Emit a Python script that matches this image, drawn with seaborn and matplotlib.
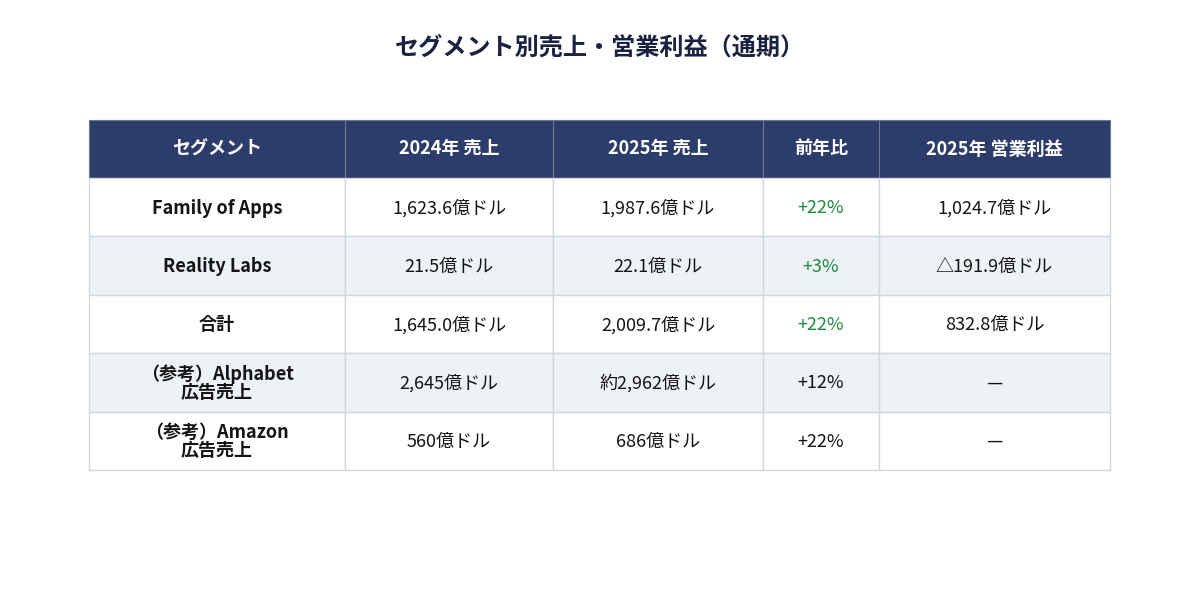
import matplotlib
matplotlib.use("Agg")
import matplotlib.pyplot as plt
import seaborn as sns
from matplotlib.patches import Rectangle

# table contents
headers = ["セグメント", "2024年 売上", "2025年 売上", "前年比", "2025年 営業利益"]
segments = ["Family of Apps", "Reality Labs", "合計",
            "（参考）Alphabet\n広告売上", "（参考）Amazon\n広告売上"]
sales_2024 = ["1,623.6億ドル", "21.5億ドル", "1,645.0億ドル", "2,645億ドル", "560億ドル"]
sales_2025 = ["1,987.6億ドル", "22.1億ドル", "2,009.7億ドル", "約2,962億ドル", "686億ドル"]
yoy = ["+22%", "+3%", "+22%", "+12%", "+22%"]
yoy_highlight = [True, True, True, False, False]
op_income_2025 = ["1,024.7億ドル", "△191.9億ドル", "832.8億ドル", "—", "—"]

# layout (pixels)
col_edges = [89, 345, 553, 763, 879, 1110]
header_top, header_h, row_h = 120, 58, 58.4

HEADER_BG = "#2c3d6b"
ALT_BG = "#eef2f7"
BORDER = "#d3d7de"
GREEN = "#1e8c3e"
TEXT = "#141414"

sns.set_theme(style="white")
plt.rcParams["font.family"] = ["Noto Sans CJK JP", "DejaVu Sans"]

fig = plt.figure(figsize=(12, 5.9), dpi=100)
ax = fig.add_axes([0, 0, 1, 1])
ax.set_xlim(0, 1200)
ax.set_ylim(590, 0)
ax.axis("off")

ax.text(600, 48, "セグメント別売上・営業利益（通期）", ha="center", va="center",
        fontsize=17.4, fontweight="bold", color="#1b2140")

# header
for i, h in enumerate(headers):
    x0, x1 = col_edges[i], col_edges[i + 1]
    ax.add_patch(Rectangle((x0, header_top), x1 - x0, header_h, facecolor=HEADER_BG,
                           edgecolor="#6a7898", linewidth=0.8))
    ax.text((x0 + x1) / 2, header_top + header_h / 2, h, ha="center", va="center",
            fontsize=13, fontweight="bold", color="white")

columns = [segments, sales_2024, sales_2025, yoy, op_income_2025]
for r in range(len(segments)):
    y0 = header_top + header_h + r * row_h
    bg = ALT_BG if r % 2 == 1 else "white"
    for c, col in enumerate(columns):
        x0, x1 = col_edges[c], col_edges[c + 1]
        ax.add_patch(Rectangle((x0, y0), x1 - x0, row_h, facecolor=bg,
                               edgecolor=BORDER, linewidth=1.0))
        color = TEXT
        weight = "normal"
        if c == 0:
            weight = "bold"
        if c == 3 and yoy_highlight[r]:
            color = GREEN
        ax.text((x0 + x1) / 2, y0 + row_h / 2 + 1, col[r], ha="center", va="center",
                fontsize=13, fontweight=weight, color=color, linespacing=0.95)

fig.savefig("out.png", dpi=100, facecolor="white")
